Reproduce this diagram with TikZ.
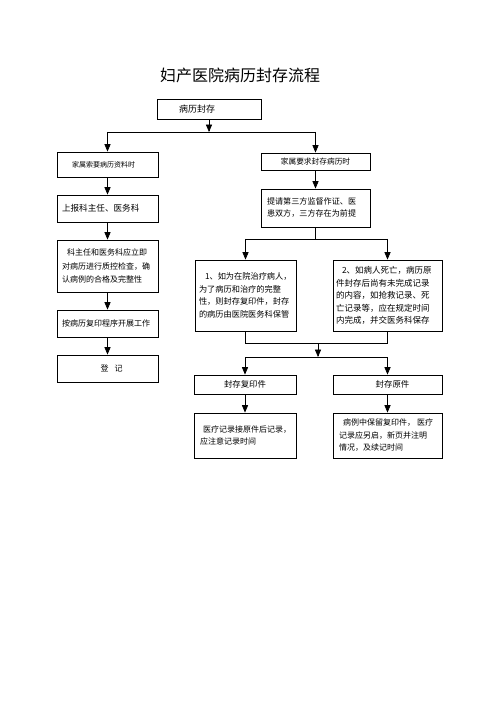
\documentclass[tikz,border=0pt]{standalone}
\usepackage{fontspec}
\newfontfamily\cjk{Noto Sans CJK SC}
\usetikzlibrary{arrows}

\begin{document}
\begin{tikzpicture}[x=1pt,y=-1pt,
    flowbox/.style={draw=black,line width=0.9pt,rectangle,inner ysep=0pt,align=left},
    link/.style={black,line width=0.7pt}]
\useasboundingbox[fill=white] (0,0) rectangle (500,708);
\begin{scope}[>=triangle 45]

    % title
    \node (title) at (240,75) {\cjk\fontsize{16}{16}\selectfont 妇产医院病历封存流程};

    % left column
    \node[flowbox,minimum height=20pt,text width=60pt,inner xsep=22pt,font=\cjk\fontsize{9}{11}\selectfont] (seal) at (209,109) {病历封存};
    \node[flowbox,minimum height=25pt,text width=71pt,inner xsep=15pt,font=\cjk\fontsize{7}{9}\selectfont] (ask) at (107.5,164.5) {家属索要病历资料时};
    \node[flowbox,minimum height=27pt,text width=91pt,inner xsep=5pt,font=\cjk\fontsize{8.6}{10}\selectfont] (report) at (107.5,208.5) {上报科主任、医务科};
    \node[flowbox,minimum height=52pt,text width=91pt,inner xsep=5pt,font=\cjk\fontsize{8}{13.3}\selectfont] (check) at (107.5,266) {\hspace*{5pt}科主任和医务科应立即\\对病历进行质控检查，确\\认病例的合格及完整性};
    \node[flowbox,minimum height=27pt,text width=91pt,inner xsep=5pt,font=\cjk\fontsize{8}{10}\selectfont] (copy) at (107.5,323.5) {按病历复印程序开展工作};
    \node[flowbox,minimum height=27pt,text width=91pt,inner xsep=5pt,align=center,font=\cjk\fontsize{8}{10}\selectfont] (record) at (107.5,368.5) {\hspace*{8pt}登\hspace{6pt}记};

    % right column
    \node[flowbox,minimum height=17pt,text width=97pt,inner xsep=6pt,align=center,font=\cjk\fontsize{7.7}{9}\selectfont] (demand) at (315.5,161.5) {家属要求封存病历时};
    \node[flowbox,minimum height=38pt,text width=97pt,inner xsep=6pt,font=\cjk\fontsize{8.1}{12}\selectfont] (witness) at (315.5,208) {提请第三方监督作证、医\\患双方，三方存在为前提};
    \node[flowbox,minimum height=71pt,text width=93pt,inner xsep=4pt,font=\cjk\fontsize{8.2}{12.5}\selectfont] (alive) at (245.5,295.5) {\hspace*{6pt}1、如为在院治疗病人，\\为了病历和治疗的完整\\性，则封存复印件，封存\\的病历由医院医务科保管};
    \node[flowbox,minimum height=71pt,text width=103pt,inner xsep=3pt,font=\cjk\fontsize{8.5}{12.5}\selectfont] (dead) at (387.5,295.5) {\hspace*{6pt}2、如病人死亡，病历原\\件封存后尚有未完成记录\\的内容，如抢救记录、死\\亡记录等，应在规定时间\\内完成，并交医务科保存};

    \node[flowbox,minimum height=19pt,text width=92pt,inner xsep=5pt,align=center,font=\cjk\fontsize{8.4}{10}\selectfont] (sealcopy) at (245,384.5) {封存复印件};
    \node[flowbox,minimum height=19pt,text width=99pt,inner xsep=5pt,align=center,font=\cjk\fontsize{8.4}{10}\selectfont] (sealorig) at (387.5,384.5) {\hspace*{10pt}封存原件};
    \node[flowbox,minimum height=45pt,text width=90pt,inner xsep=6pt,font=\cjk\fontsize{8}{12}\selectfont] (notecopy) at (245,435.5) {\hspace*{3pt}医疗记录接原件后记录，\\应注意记录时间\\[4pt]};
    \node[flowbox,minimum height=45pt,text width=97pt,inner xsep=6pt,font=\cjk\fontsize{8}{12.5}\selectfont] (noteorig) at (387.5,435.5) {\hspace*{4pt}病例中保留复印件，\hspace{2pt}医疗\\记录应另启，新页并注明\\情况，及续记时间};

    % connectors, top split
    \coordinate (split) at (209,132);
    \draw[link,->] (seal) -- (split);
    \draw[link] (split -| ask) -- (split -| demand);
    \draw[link,->] (split -| ask) -- (ask);
    \draw[link,->] (split -| demand) -- (demand);

    % left chain
    \draw[link,->] (ask) -- (report);
    \draw[link,->] (report) -- (check);
    \draw[link,->] (check) -- (copy);
    \draw[link,->] (copy) -- (record);

    % right chain
    \draw[link,->] (demand) -- (witness);
    \coordinate (fork) at (315.5,239);
    \draw[link] (witness) -- (fork);
    \draw[link] (fork -| alive) -- (fork -| dead);
    \draw[link,->] (fork -| alive) -- (alive);
    \draw[link,->] (fork -| dead) -- (dead);

    \coordinate (join) at (318,343);
    \coordinate (spread) at (318,357);
    \draw[link] (alive) -- (join -| alive) -- (join -| dead) -- (dead);
    \draw[link,->] (join) -- (spread);
    \draw[link] (spread -| sealcopy) -- (spread -| sealorig);
    \draw[link,->] (spread -| sealcopy) -- (sealcopy);
    \draw[link,->] (spread -| sealorig) -- (sealorig);
    \draw[link,->] (sealcopy) -- (notecopy);
    \draw[link,->] (sealorig) -- (noteorig);

\end{scope}
\end{tikzpicture}
\end{document}
